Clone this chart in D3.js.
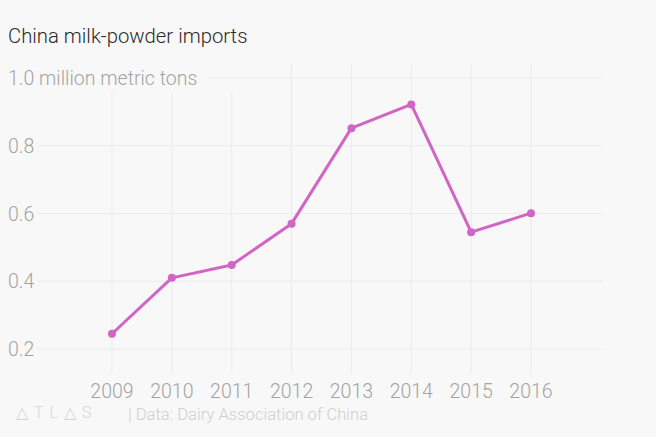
<!DOCTYPE html>
<html>
<head>
<meta charset="utf-8">
<script src="https://cdn.jsdelivr.net/npm/d3@7"></script>
<style>
  body { margin: 0; background: #f8f8f8; }
  text { font-family: Roboto, "Open Sans", sans-serif; }
</style>
</head>
<body>
<script>
// data
var years = [2009, 2010, 2011, 2012, 2013, 2014, 2015, 2016];
var imports = [0.245, 0.41, 0.448, 0.57, 0.852, 0.922, 0.545, 0.601];
var yTicks = [0.2, 0.4, 0.6, 0.8, 1.0];

var width = 656, height = 437;

var svg = d3.select("body").append("svg")
  .attr("width", width)
  .attr("height", height);

svg.append("rect").attr("width", width).attr("height", height).attr("fill", "#f8f8f8");

var x = d3.scaleLinear().domain([2009, 2016]).range([112, 531]);
var y = d3.scaleLinear().domain([0.2, 1.0]).range([349, 78]);

/* grid */
var grid = svg.append("g").attr("stroke", "#ebebeb").attr("stroke-width", 1);
grid.selectAll("line.v").data(years).enter().append("line")
  .attr("x1", function(d) { return x(d); })
  .attr("x2", function(d) { return x(d); })
  .attr("y1", function(d, i) { return i < 3 ? 92 : 64; })
  .attr("y2", 373);
grid.selectAll("line.h").data(yTicks).enter().append("line")
  .attr("x1", function(d) { return d === 1.0 ? 208 : 38; })
  .attr("x2", 603)
  .attr("y1", function(d) { return y(d); })
  .attr("y2", function(d) { return y(d); });

/* y labels */
svg.append("g").selectAll("text").data(yTicks).enter().append("text")
  .attr("x", 8)
  .attr("y", function(d) { return y(d) + 7; })
  .attr("fill", "#a3a3a3")
  .attr("font-size", 19.5)
  .attr("font-weight", 300)
  .text(function(d) { return d === 1.0 ? "1.0 million metric tons" : d.toFixed(1); });

/* x labels */
svg.append("g").selectAll("text").data(years).enter().append("text")
  .attr("x", function(d) { return x(d); })
  .attr("y", 398)
  .attr("text-anchor", "middle")
  .attr("fill", "#a3a3a3")
  .attr("font-size", 19.5)
  .attr("font-weight", 300)
  .text(function(d) { return d; });

/* line */
var pts = years.map(function(d, i) { return [d, imports[i]]; });
var line = d3.line().x(function(d) { return x(d[0]); }).y(function(d) { return y(d[1]); });
svg.append("path").datum(pts)
  .attr("d", line)
  .attr("fill", "none")
  .attr("stroke", "#d164c4")
  .attr("stroke-width", 3)
  .attr("stroke-linejoin", "round");
svg.append("g").selectAll("circle").data(pts).enter().append("circle")
  .attr("cx", function(d) { return x(d[0]); })
  .attr("cy", function(d) { return y(d[1]); })
  .attr("r", 4)
  .attr("fill", "#d164c4");

/* title */
svg.append("text")
  .attr("x", 8).attr("y", 43)
  .attr("fill", "#2a2a2a")
  .attr("font-size", 20.3)
  .attr("font-weight", 300)
  .text("China milk-powder imports");

/* footer */
svg.append("text")
  .attr("x", 16).attr("y", 418)
  .attr("fill", "#d6d6d6")
  .attr("font-size", 16)
  .attr("font-weight", 300)
  .attr("letter-spacing", 6)
  .text("\u25B3TL\u25B3S");
svg.append("text")
  .attr("x", 128).attr("y", 420)
  .attr("fill", "#cfcfcf")
  .attr("font-size", 16.6)
  .attr("font-weight", 300)
  .text("| Data: Dairy Association of China");
</script>
</body>
</html>
